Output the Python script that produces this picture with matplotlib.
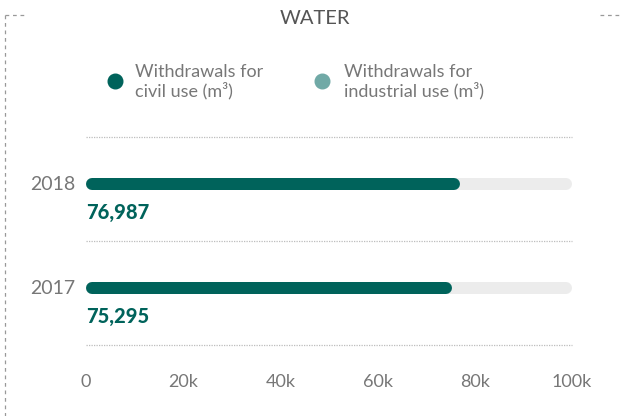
import matplotlib
matplotlib.use("Agg")
import matplotlib.pyplot as plt
from matplotlib.lines import Line2D

# Data
years = ["2017", "2018"]
civil_use = [75295, 76987]
scale_max = 100000
tick_values = [0, 20000, 40000, 60000, 80000, 100000]
tick_labels = ["0", "20k", "40k", "60k", "80k", "100k"]
legend_labels = ["Withdrawals for\ncivil use (m³)", "Withdrawals for\nindustrial use (m³)"]
title = "WATER"

DARK = "#00635b"
LIGHT = "#70a9a6"
TRACK = "#ececec"
TEXT = "#777777"
FONT = ["Lato", "DejaVu Sans"]

plt.rcParams["font.family"] = FONT

W, H = 625, 416
fig = plt.figure(figsize=(W / 100, H / 100), dpi=100)

# plot area: x 0 -> px 86, 100k -> px 572 ; gridlines at px 345 / 241 / 137
left, right = 86 / W, 572 / W
bottom, top = (H - 345) / H, (H - 137) / H
ax = fig.add_axes([left, bottom, right - left, top - bottom])
ax.set_xlim(0, scale_max)
ax.set_ylim(0, 2)

for s in ax.spines.values():
    s.set_visible(False)

# dotted separators
for gy in [0, 1, 2]:
    ax.axhline(gy, color="#bdbdbd", lw=0.9, ls=(0, (1, 1)), zorder=0,
               clip_on=False)

bar_px = 12
px_per_unit = (572 - 86) / scale_max
r = (bar_px / 2) / px_per_unit  # cap radius in data units

for i, (yr, v) in enumerate(zip(years, civil_use)):
    yc = i + 0.545
    # background track
    ax.plot([r, scale_max - r], [yc, yc], color=TRACK, lw=bar_px * 0.72,
            solid_capstyle="round", clip_on=False, zorder=1)
    # value bar
    ax.plot([r, v - r], [yc, yc], color=DARK, lw=bar_px * 0.72,
            solid_capstyle="round", clip_on=False, zorder=2)
    ax.text(-2200, yc, yr, ha="right", va="center", fontsize=14, color=TEXT)
    ax.text(0, i + 0.27, f"{v:,}", ha="left", va="center", fontsize=14.5,
            fontweight="black", color=DARK)

ax.set_yticks([])
ax.set_xticks(tick_values)
ax.set_xticklabels(tick_labels, fontsize=13, color=TEXT)
ax.tick_params(axis="x", length=0, pad=21)

# title
fig.text(315 / W, 1 - 18 / H, title, ha="center", va="center", fontsize=14.5,
         color="#555555")

# legend
for mx, tx, col, lab in [(115, 135, DARK, legend_labels[0]),
                         (322, 344, LIGHT, legend_labels[1])]:
    fig.add_artist(Line2D([mx / W], [1 - 81 / H], marker="o", ms=10.5,
                          color=col, transform=fig.transFigure, ls=""))
    fig.text(tx / W, 1 - 82 / H, lab, ha="left", va="center", fontsize=13,
             color=TEXT, linespacing=1.15)

# dashed frame fragments
dash = dict(color="#999999", lw=0.9, ls=(0, (3, 3)), transform=fig.transFigure)
fig.add_artist(Line2D([5 / W, 5 / W], [1 - 15 / H, 0], **dash))
fig.add_artist(Line2D([5 / W, 27 / W], [1 - 15 / H, 1 - 15 / H], **dash))
fig.add_artist(Line2D([600 / W, 621 / W], [1 - 15 / H, 1 - 15 / H], **dash))

fig.savefig("out.png", dpi=100, facecolor="white")
